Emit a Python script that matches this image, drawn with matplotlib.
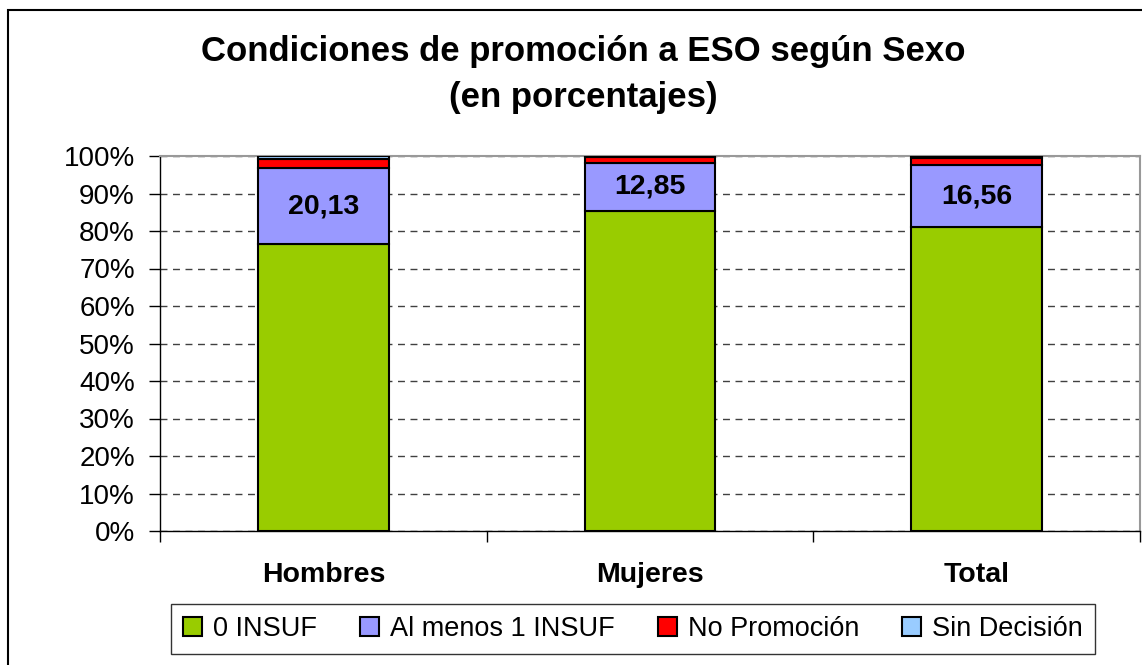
import matplotlib.pyplot as plt
from matplotlib.patches import Rectangle
import numpy as np

plt.rcParams['font.family'] = ['Liberation Sans', 'DejaVu Sans']

# data (percent)
categories = ["Hombres", "Mujeres", "Total"]
series_names = ["0 INSUF", "Al menos 1 INSUF", "No Promoción", "Sin Decisión"]
cero_insuf = [76.6, 85.4, 81.0]
al_menos_1 = [20.13, 12.85, 16.56]
no_promocion = [2.4, 1.6, 1.8]
sin_decision = [0.87, 0.15, 0.64]
labels_al_menos = ["20,13", "12,85", "16,56"]
colors = ["#99CC00", "#9999FF", "#FF0000", "#99CCFF"]

fig = plt.figure(figsize=(11.42, 6.65), dpi=100)
ax = fig.add_axes([160 / 1142, 134 / 665, 980 / 1142, 375 / 665])

# outer chart border
fig.patches.append(Rectangle((8 / 1142, -0.01), 1.1, (665 - 10) / 665 + 0.01,
                             transform=fig.transFigure, fill=False,
                             edgecolor="black", linewidth=1.5))

x = np.arange(len(categories))
bottom = np.zeros(len(categories))
for name, vals, col in zip(series_names, [cero_insuf, al_menos_1, no_promocion, sin_decision], colors):
    ax.bar(x, vals, width=0.4, bottom=bottom, color=col, edgecolor="black",
           linewidth=1.5, label=name, zorder=3)
    bottom += np.array(vals)

for i, lab in enumerate(labels_al_menos):
    ax.text(x[i], cero_insuf[i] + al_menos_1[i] / 2, lab, ha="center", va="center",
            fontsize=20.5, fontweight="bold", zorder=4)

ax.set_xlim(-0.5, 2.5)
ax.set_ylim(0, 100)
ax.set_yticks(range(0, 101, 10))
ax.set_yticklabels([f"{v}%" for v in range(0, 101, 10)], fontsize=20)
ax.yaxis.grid(True, linestyle=(0, (5, 4)), color="#404040", linewidth=1, zorder=0)

ax.set_xticks([-0.5, 0.5, 1.5, 2.5])
ax.set_xticklabels([])
ax.set_xticks(x, minor=True)
ax.set_xticklabels(categories, minor=True, fontsize=20.5, fontweight="bold")
ax.tick_params(axis="x", which="minor", length=0, pad=22)
ax.tick_params(axis="x", which="major", length=8, width=1)
ax.tick_params(axis="y", length=8, width=1, pad=10)

for s in ["top", "right"]:
    ax.spines[s].set_color("#999999")
    ax.spines[s].set_linewidth(1.5)
for s in ["left", "bottom"]:
    ax.spines[s].set_color("black")
    ax.spines[s].set_linewidth(1)

fig.text(583 / 1142, 1 - 52 / 665, "Condiciones de promoción a ESO según Sexo",
         ha="center", va="center", fontsize=25, fontweight="bold")
fig.text(583 / 1142, 1 - 97 / 665, "(en porcentajes)",
         ha="center", va="center", fontsize=25, fontweight="bold")

leg = fig.legend(loc="center", bbox_to_anchor=(633 / 1142, 1 - 629 / 665), ncol=4,
                 fontsize=19.5, frameon=True, fancybox=False, edgecolor="black",
                 handlelength=0.7, handleheight=0.7, handletextpad=0.4,
                 columnspacing=1.6, borderpad=0.45)
leg.get_frame().set_linewidth(1)

fig.savefig("out.png", dpi=100)
